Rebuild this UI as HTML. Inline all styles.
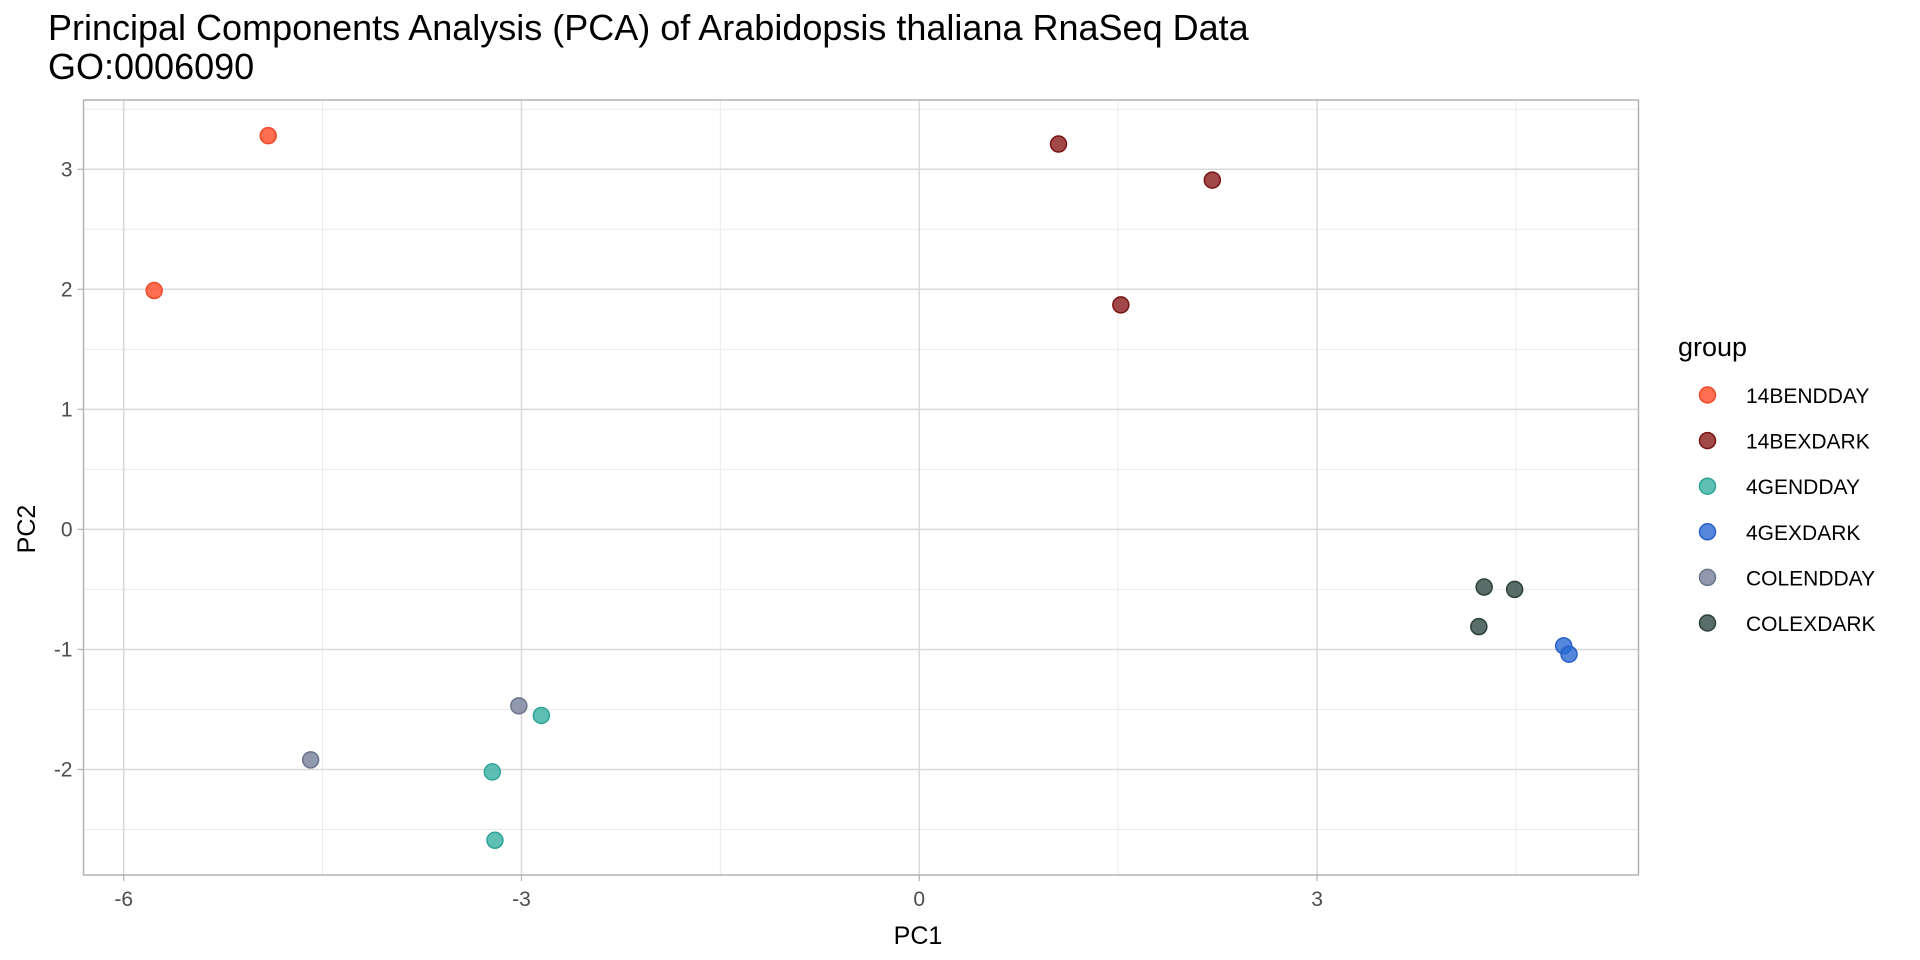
<!DOCTYPE html>
<html><head><meta charset="utf-8"><style>
html,body{margin:0;padding:0;background:#fff;}
svg{display:block;font-family:"Liberation Sans",Arial,sans-serif;}
</style></head><body>
<svg id="chart" width="1920" height="960" viewBox="0 0 1920 960">
<text x="48" y="40" font-size="36" fill="#000">Principal Components Analysis (PCA) of Arabidopsis thaliana RnaSeq Data</text>
<text x="48" y="79" font-size="36" fill="#000">GO:0006090</text>
<g id="grid"></g>
<g id="points"></g>
<rect x="83.5" y="100" width="1555" height="775" fill="none" stroke="#b3b3b3" stroke-width="1.5"/>
<g id="ticks"></g>
<text x="918" y="944" font-size="25" text-anchor="middle" fill="#000">PC1</text>
<text transform="translate(35,529) rotate(-90)" font-size="25" text-anchor="middle" fill="#000">PC2</text>
<text x="1678" y="356" font-size="27" fill="#000">group</text>
<g id="legend"></g>
</svg>
<script>
const groups = ["14BENDDAY","14BEXDARK","4GENDDAY","4GEXDARK","COLENDDAY","COLEXDARK"];
const colors = ["#ff4a26","#8a1a1a","#36b0a3","#2a6ad4","#75809a","#2f4a44"];
const strokes = ["#f04a2a","#7a1515","#2fa396","#2860c8","#6a758a","#2a403a"];
const ptGroup = [0,0,1,1,1,2,2,2,3,3,4,4,5,5,5];
const ptX = [-4.91,-5.77,1.05,2.21,1.52,-2.85,-3.22,-3.20,4.86,4.90,-3.02,-4.59,4.26,4.49,4.22];
const ptY = [3.28,1.99,3.21,2.91,1.87,-1.55,-2.02,-2.59,-0.97,-1.04,-1.47,-1.92,-0.48,-0.50,-0.81];
const xTicks = [-6,-3,0,3];
const yTicks = [-2,-1,0,1,2,3];
const xMinor = [-4.5,-1.5,1.5,4.5];
const yMinor = [-2.5,-1.5,-0.5,0.5,1.5,2.5,3.5];
const xDom=[-6.303,5.424], yDom=[-2.879,3.577];
const L=83.5,R=1638.5,T=100,B=875;
const sx=v=>L+(v-xDom[0])/(xDom[1]-xDom[0])*(R-L);
const sy=v=>B-(v-yDom[0])/(yDom[1]-yDom[0])*(B-T);
const NS="http://www.w3.org/2000/svg";
function mk(t,a,p){const e=document.createElementNS(NS,t);for(const k in a)e.setAttribute(k,a[k]);p.appendChild(e);return e;}
const grid=document.getElementById('grid'),ticks=document.getElementById('ticks'),pts=document.getElementById('points'),leg=document.getElementById('legend');
xMinor.forEach(v=>{const l=mk('line',{x1:sx(v),x2:sx(v),y1:T,y2:B,stroke:'#ebebeb','stroke-width':1},grid);

});
yMinor.forEach(v=>{const l=mk('line',{x1:L,x2:R,y1:sy(v),y2:sy(v),stroke:'#ebebeb','stroke-width':1},grid);

});
xTicks.forEach(v=>{const l=mk('line',{x1:sx(v),x2:sx(v),y1:T,y2:B,stroke:'#d9d9d9','stroke-width':1.5},grid);


const tk=mk('line',{x1:sx(v),x2:sx(v),y1:B,y2:B+6,stroke:'#b3b3b3','stroke-width':1.2},ticks);


const t=mk('text',{x:sx(v),y:906,'font-size':21,'text-anchor':'middle',fill:'#4d4d4d'},ticks);t.textContent=v;

});
yTicks.forEach(v=>{const l=mk('line',{x1:L,x2:R,y1:sy(v),y2:sy(v),stroke:'#d9d9d9','stroke-width':1.5},grid);


const tk=mk('line',{x1:L-6,x2:L,y1:sy(v),y2:sy(v),stroke:'#b3b3b3','stroke-width':1.2},ticks);


const t=mk('text',{x:L-11,y:sy(v)+7,'font-size':21,'text-anchor':'end',fill:'#4d4d4d'},ticks);t.textContent=v;

});
ptX.forEach((v,i)=>{const g=ptGroup[i];const c=mk('circle',{cx:sx(v),cy:sy(ptY[i]),r:8,fill:colors[g],'fill-opacity':0.8,stroke:strokes[g],'stroke-width':1.5},pts);

});
groups.forEach((g,i)=>{const y=395+i*45.6;
const c=mk('circle',{cx:1707.5,cy:y,r:8,fill:colors[i],'fill-opacity':0.8,stroke:strokes[i],'stroke-width':1.5},leg);


const t=mk('text',{x:1746,y:y+8,'font-size':21,fill:'#000'},leg);t.textContent=g;

});
</script>
</body></html>
